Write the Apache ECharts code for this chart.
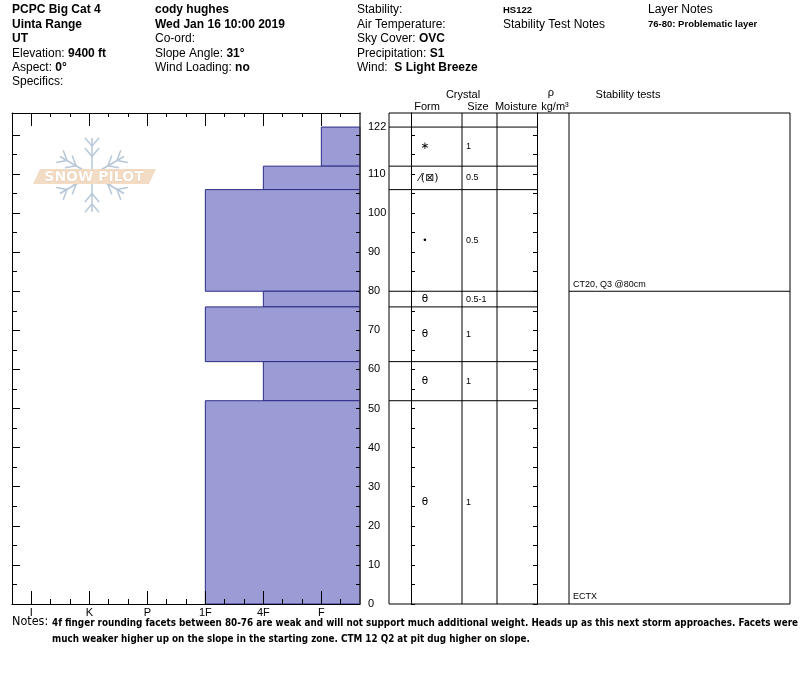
<!DOCTYPE html>
<html>
<head>
<meta charset="utf-8">
<title>Snow profile</title>
<script src="https://cdn.jsdelivr.net/npm/echarts@6/dist/echarts.min.js"></script>
<style>
  html, body { margin: 0; padding: 0; background: #fff; }
  #main { width: 800px; height: 676px; }
</style>
</head>
<body>
<div id="main"></div>
<script>
// layers, top to bottom (cm)
var layerTop = [122, 112, 106, 80, 76, 62, 52];
var layerBottom = [112, 106, 80, 76, 62, 52, 0];
var layerHardness = ['F', '4F', '1F', '4F', '1F', '4F', '1F'];
var layerForm = ['\u2217', '\u2044(\u22a0)', '\u2022', '\u03b8', '\u03b8', '\u03b8', '\u03b8'];
var layerSize = ['1', '0.5', '0.5', '0.5-1', '1', '1', '1'];

// hardness scale, counted in minor steps from the right edge
var hardnessLabels = ['I', 'K', 'P', '1F', '4F', 'F'];
var hardnessPos = [17, 14, 11, 8, 5, 2];
var hardnessMinor = [1, 3, 4, 6, 7, 9, 10, 12, 13, 15, 16];

// depth axis
var depthLabels = [0, 10, 20, 30, 40, 50, 60, 70, 80, 90, 100, 110, 122];
var depthMajor = [0, 10, 20, 30, 40, 50, 60, 70, 80, 90, 100, 110, 120];
var depthMinor = [5, 15, 25, 35, 45, 55, 65, 75, 85, 95, 105, 115];
var depthAll = [0, 5, 10, 15, 20, 25, 30, 35, 40, 45, 50, 55, 60, 65, 70, 75, 80, 85, 90, 95, 100, 105, 110, 115, 120];

// stability tests
var testDepth = [80, 0];
var testText = ['CT20, Q3 @80cm', 'ECTX'];

var notesLine1 = '4f finger rounding facets between 80-76 are weak and will not support much additional weight. Heads up as this next storm approaches. Facets were';
var notesLine2 = 'much weaker higher up on the slope in the starting zone. CTM 12 Q2 at pit dug higher on slope.';

var FONT = '"Liberation Sans", Arial, sans-serif';
var NARROW = '"DejaVu Sans Condensed", "Liberation Sans", sans-serif';
var DEPTH_MAX = 125.6;

// table columns (px)
var tableLeft = 389, colForm = 411, colSize = 462, colMoist = 497, colRho = 537, colTest = 569, tableRight = 790;

var chart = echarts.init(document.getElementById('main'));

function hardnessValue(code) {
  return hardnessPos[hardnessLabels.indexOf(code)];
}

var barData = layerTop.map(function (t, i) {
  return [hardnessValue(layerHardness[i]), t, layerBottom[i]];
});
var layerData = layerTop.map(function (t, i) {
  return [0, t, layerBottom[i], i];
});
var testData = testDepth.map(function (d, i) {
  return [0, d, i];
});

// header text
var headerCols = [
  { x: 12, rows: ['{b|PCPC Big Cat 4}', '{b|Uinta Range}', '{b|UT}', '{n|Elevation: }{b|9400 ft}', '{n|Aspect: }{b|0°}', '{n|Specifics:}'] },
  { x: 155, rows: ['{b|cody hughes}', '{b|Wed Jan 16 10:00 2019}', '{n|Co-ord:}', '{n|Slope Angle: }{b|31°}', '{n|Wind Loading: }{b|no}'] },
  { x: 357, rows: ['{n|Stability:}', '{n|Air Temperature:}', '{n|Sky Cover: }{b|OVC}', '{n|Precipitation: }{b|S1}', '{n|Wind:  }{b|S Light Breeze}'] },
  { x: 503, rows: ['{s|HS122}', '{n|Stability Test Notes}'] },
  { x: 648, rows: ['{n|Layer Notes}', '{s|76-80: Problematic layer}'] }
];
var richStyles = {
  n: { font: '12px ' + FONT, fill: '#000' },
  b: { font: 'bold 12px ' + FONT, fill: '#000' },
  s: { font: 'bold 9.5px ' + FONT, fill: '#000' }
};

var graphics = [];
headerCols.forEach(function (col) {
  col.rows.forEach(function (r, k) {
    graphics.push({
      type: 'text',
      style: { text: r, x: col.x, y: 10 + k * 14.4, textVerticalAlign: 'middle', rich: richStyles, font: '12px ' + FONT }
    });
  });
});

// table header
var tableHead = [
  { t: 'Crystal', x: 463, y: 95 },
  { t: 'Form', x: 427, y: 107 },
  { t: 'Size', x: 478, y: 107 },
  { t: 'Moisture', x: 516, y: 107 },
  { t: '\u03c1', x: 551, y: 93 },
  { t: 'kg/m\u00b3', x: 555, y: 107 },
  { t: 'Stability tests', x: 628, y: 95 }
];
tableHead.forEach(function (h) {
  graphics.push({
    type: 'text',
    style: { text: h.t, x: h.x, y: h.y, textAlign: 'center', textVerticalAlign: 'middle', font: '11px ' + FONT, fill: '#000' }
  });
});

// inner column lines of the table
[colSize, colMoist, colTest].forEach(function (cx) {
  graphics.push({
    type: 'line', z: 5,
    shape: { x1: cx, y1: 113, x2: cx, y2: 604 },
    style: { stroke: '#000', lineWidth: 1 }
  });
});

// notes
graphics.push({
  type: 'text',
  style: { text: 'Notes:', x: 12, y: 622, textVerticalAlign: 'middle', font: '12.5px ' + NARROW, fill: '#000' }
});
graphics.push({
  type: 'text',
  style: { text: notesLine1, x: 52, y: 623, textVerticalAlign: 'middle', font: 'bold 9.8px ' + NARROW, fill: '#000' }
});
graphics.push({
  type: 'text',
  style: { text: notesLine2, x: 52, y: 639, textVerticalAlign: 'middle', font: 'bold 9.8px ' + NARROW, fill: '#000' }
});

// snow pilot watermark
var flake = [];
var cx0 = 92, cy0 = 175, armLen = 37;
[90, 30, -30, -90, 150, 210].forEach(function (deg) {
  var a = deg * Math.PI / 180;
  var ex = cx0 + Math.cos(a) * armLen, ey = cy0 - Math.sin(a) * armLen;
  flake.push({ type: 'line', shape: { x1: cx0, y1: cy0, x2: ex, y2: ey }, style: { stroke: '#b7c7d7', lineWidth: 1.5 } });
  [0.5, 0.78].forEach(function (f) {
    var bx = cx0 + Math.cos(a) * armLen * f, by = cy0 - Math.sin(a) * armLen * f;
    [40, -40].forEach(function (off) {
      var b = a + off * Math.PI / 180;
      flake.push({ type: 'line', shape: { x1: bx, y1: by, x2: bx + Math.cos(b) * 11, y2: by - Math.sin(b) * 11 }, style: { stroke: '#b7c7d7', lineWidth: 1.5 } });
    });
  });
});
flake.push({ type: 'polygon', shape: { points: [[40, 169], [156, 169], [149, 184], [33, 184]] }, style: { fill: '#f3dcc6' } });
flake.push({
  type: 'text',
  style: { text: 'SNOW PILOT', x: 94, y: 177, textAlign: 'center', textVerticalAlign: 'middle', font: 'bold 14px "DejaVu Sans", sans-serif', fill: '#ffffff', stroke: '#e6c3a2', lineWidth: 0.8 }
});
graphics.push({ type: 'group', z: 0, children: flake });

var tickStyle = { color: '#000', width: 1 };
var plainLine = { show: true, onZero: false, lineStyle: { color: '#000' } };
var noLine = { show: false, onZero: false };

var option = {
  animation: false,
  backgroundColor: '#fff',
  grid: [
    { left: 12, width: 348, top: 113, height: 491, show: false },
    { left: tableLeft, width: tableRight - tableLeft, top: 113, height: 491, show: true, borderColor: '#000', borderWidth: 1, backgroundColor: 'transparent' }
  ],
  xAxis: [
    {
      gridIndex: 0, type: 'value', position: 'bottom', inverse: true, min: 0, max: 18, z: 5,
      axisLine: plainLine,
      axisTick: { show: true, inside: true, length: 13, customValues: hardnessPos, lineStyle: tickStyle },
      axisLabel: {
        show: true, customValues: hardnessPos, margin: 3, color: '#000', fontSize: 11, fontFamily: FONT,
        formatter: function (v) { return hardnessLabels[hardnessPos.indexOf(v)]; }
      },
      splitLine: { show: false }
    },
    {
      gridIndex: 0, type: 'value', position: 'bottom', inverse: true, min: 0, max: 18, z: 5,
      axisLine: noLine,
      axisTick: { show: true, inside: true, length: 5, customValues: hardnessMinor, lineStyle: tickStyle },
      axisLabel: { show: false },
      splitLine: { show: false }
    },
    {
      gridIndex: 0, type: 'value', position: 'top', inverse: true, min: 0, max: 18, z: 5,
      axisLine: plainLine,
      axisTick: { show: true, inside: true, length: 13, customValues: hardnessPos, lineStyle: tickStyle },
      axisLabel: { show: false },
      splitLine: { show: false }
    },
    {
      gridIndex: 0, type: 'value', position: 'top', inverse: true, min: 0, max: 18, z: 5,
      axisLine: noLine,
      axisTick: { show: true, inside: true, length: 4, customValues: hardnessMinor, lineStyle: tickStyle },
      axisLabel: { show: false },
      splitLine: { show: false }
    },
    { gridIndex: 1, type: 'value', min: 0, max: 1, show: false }
  ],
  yAxis: [
    {
      gridIndex: 0, type: 'value', position: 'right', min: 0, max: DEPTH_MAX, z: 5,
      axisLine: { show: true, onZero: false, lineStyle: { color: '#333', width: 1.5 } },
      axisTick: { show: true, inside: true, length: 4, customValues: depthAll, lineStyle: tickStyle },
      axisLabel: { show: true, customValues: depthLabels, margin: 8, color: '#000', fontSize: 11, fontFamily: FONT },
      splitLine: { show: false }
    },
    {
      gridIndex: 0, type: 'value', position: 'left', min: 0, max: DEPTH_MAX,
      axisLine: plainLine,
      axisTick: { show: true, inside: true, length: 8, customValues: depthMajor, lineStyle: tickStyle },
      axisLabel: { show: false },
      splitLine: { show: false }
    },
    {
      gridIndex: 0, type: 'value', position: 'left', min: 0, max: DEPTH_MAX,
      axisLine: noLine,
      axisTick: { show: true, inside: true, length: 5, customValues: depthMinor, lineStyle: tickStyle },
      axisLabel: { show: false },
      splitLine: { show: false }
    },
    {
      gridIndex: 1, type: 'value', position: 'left', offset: -(colForm - tableLeft), min: 0, max: DEPTH_MAX,
      axisLine: plainLine,
      axisTick: { show: true, inside: true, length: 4, customValues: depthAll, lineStyle: tickStyle },
      axisLabel: { show: false },
      splitLine: { show: false }
    },
    {
      gridIndex: 1, type: 'value', position: 'right', offset: -(tableRight - colRho), min: 0, max: DEPTH_MAX,
      axisLine: plainLine,
      axisTick: { show: true, inside: true, length: 4, customValues: depthAll, lineStyle: tickStyle },
      axisLabel: { show: false },
      splitLine: { show: false }
    }
  ],
  graphic: graphics,
  series: [
    {
      name: 'hardness', type: 'custom', xAxisIndex: 0, yAxisIndex: 0, z: 1,
      data: barData,
      encode: { x: 0, y: [1, 2] },
      renderItem: function (params, api) {
        var p1 = api.coord([api.value(0), api.value(1)]);
        var p2 = api.coord([0, api.value(2)]);
        return {
          type: 'rect',
          shape: { x: Math.min(p1[0], p2[0]), y: p1[1], width: Math.abs(p2[0] - p1[0]), height: p2[1] - p1[1] },
          style: { fill: '#9b9bd6', stroke: '#2c2c84', lineWidth: 1 }
        };
      }
    },
    {
      name: 'layers', type: 'custom', xAxisIndex: 4, yAxisIndex: 3, z: 3,
      data: layerData,
      encode: { y: [1, 2] },
      renderItem: function (params, api) {
        var yTop = api.coord([0, api.value(1)])[1];
        var yBot = api.coord([0, api.value(2)])[1];
        var yMid = (yTop + yBot) / 2;
        var i = api.value(3);
        var size = i === 2 ? '9px ' : (i === 1 ? '11px ' : '10.5px ');
        return {
          type: 'group',
          children: [
            { type: 'line', shape: { x1: tableLeft, y1: yTop, x2: colRho, y2: yTop }, style: { stroke: '#000', lineWidth: 1 } },
            { type: 'text', style: { text: layerForm[i], x: i === 1 ? 419 : 425, y: yMid, textAlign: i === 1 ? 'left' : 'center', textVerticalAlign: 'middle', font: size + '"DejaVu Sans", sans-serif', fill: '#000' } },
            { type: 'text', style: { text: layerSize[i], x: 466, y: yMid, textAlign: 'left', textVerticalAlign: 'middle', font: '9px ' + FONT, fill: '#000' } }
          ]
        };
      }
    },
    {
      name: 'tests', type: 'custom', xAxisIndex: 4, yAxisIndex: 3, z: 3,
      data: testData,
      encode: { y: 1 },
      renderItem: function (params, api) {
        var y = api.coord([0, api.value(1)])[1];
        var i = api.value(2);
        var kids = [
          { type: 'text', style: { text: testText[i], x: colTest + 4, y: y - 7, textVerticalAlign: 'middle', font: '9px ' + FONT, fill: '#000' } }
        ];
        if (api.value(1) > 0) {
          kids.push({ type: 'line', shape: { x1: colTest, y1: y, x2: tableRight, y2: y }, style: { stroke: '#000', lineWidth: 1 } });
        }
        return { type: 'group', children: kids };
      }
    }
  ]
};

chart.setOption(option);
</script>
</body>
</html>
